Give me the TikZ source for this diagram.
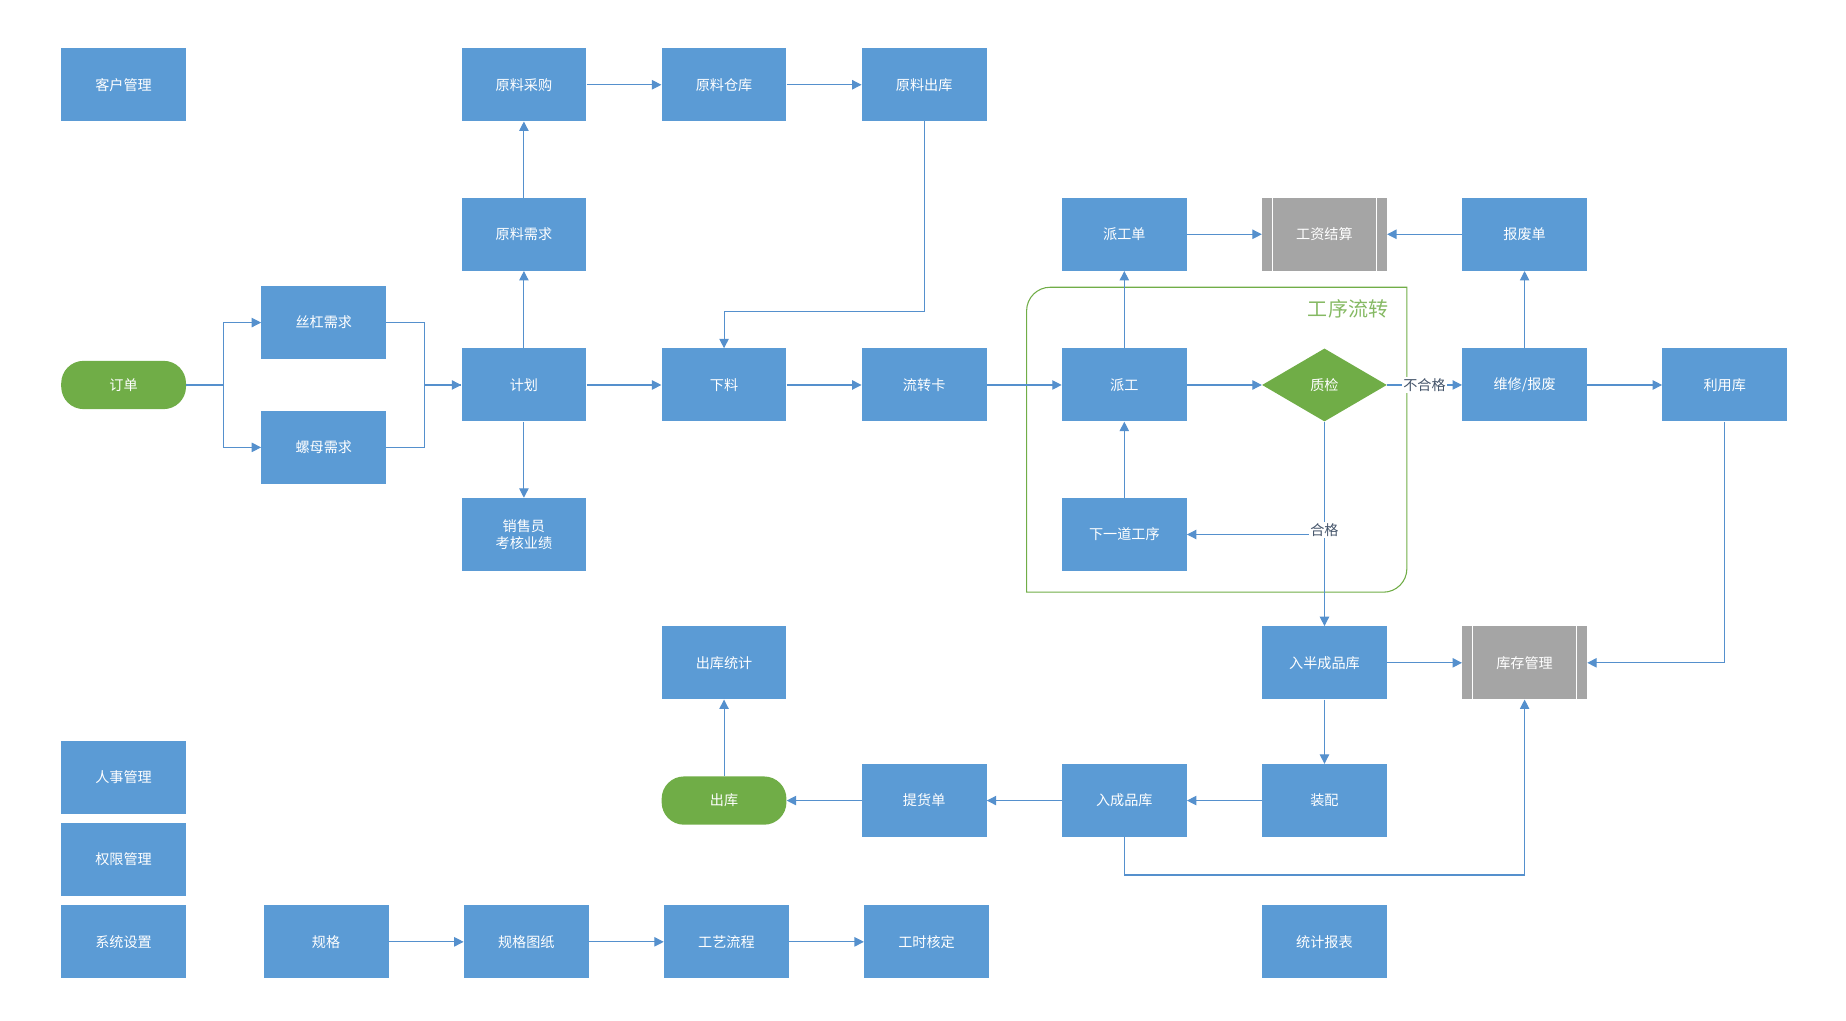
\documentclass[tikz,border=0pt]{standalone}
\usepackage{fontspec}
\setmainfont{Noto Sans CJK SC}
\usetikzlibrary{shapes.geometric,arrows.meta,calc}
\definecolor{boxblue}{HTML}{5B9BD5}
\definecolor{lineblue}{HTML}{5590CD}
\definecolor{okgreen}{HTML}{70AD47}
\definecolor{boxgray}{HTML}{A5A5A5}
\definecolor{labelc}{HTML}{44546A}
\tikzset{
  x=1pt,y=-1pt,
  box/.style={rectangle,fill=boxblue,draw=none,minimum width=106pt,minimum height=62pt,inner sep=0pt,text=white,font=\fontsize{12}{15}\selectfont,align=center},
  graybox/.style={box,fill=boxgray},
  term/.style={rectangle,rounded corners=19pt,fill=okgreen,draw=none,minimum width=106pt,minimum height=41pt,inner sep=0pt,text=white,font=\fontsize{12}{15}\selectfont},
  decide/.style={diamond,fill=okgreen,draw=none,minimum width=106pt,minimum height=62pt,inner sep=0pt,text=white,font=\fontsize{12}{15}\selectfont},
  arr/.style={draw=lineblue,line width=0.9pt,-{Triangle[length=8pt,width=8pt]}},
  ln/.style={draw=lineblue,line width=0.9pt},
  elabel/.style={fill=white,inner sep=1pt,text=labelc,font=\fontsize{12}{14}\selectfont},
}
\begin{document}
\begin{tikzpicture}
\useasboundingbox (0,0) rectangle (1568,867);
% group frame
\draw[okgreen,line width=0.9pt]
  (872,264) arc[start angle=180,end angle=270,radius=20] -- (1195,244) -- (1195,483)
  arc[start angle=0,end angle=90,radius=20] -- (872,503) -- cycle;
\node[text=okgreen!85!white,font=\fontsize{17}{20}\selectfont] (grp) at (1145,262) {工序流转};
% nodes
\node[box] (khgl) at (105,72) {客户管理};
\node[box] (ylcg) at (445,72) {原料采购};
\node[box] (ylck) at (615,72) {原料仓库};
\node[box] (ylchk) at (785,72) {原料出库};
\node[box] (ylxq) at (445,199) {原料需求};
\node[box] (pgd) at (955,199) {派工单};
\node[graybox] (gzjs) at (1125,199) {工资结算};
\node[box] (bfd) at (1295,199) {报废单};
\node[box] (sgxq) at (275,274) {丝杠需求};
\node[term] (dd) at (105,327) {订单};
\node[box] (jh) at (445,327) {计划};
\node[box] (xl) at (615,327) {下料};
\node[box] (lzk) at (785,327) {流转卡};
\node[box] (pg) at (955,327) {派工};
\node[decide] (zj) at (1125,327) {质检};
\node[box] (wx) at (1295,327) {维修/报废};
\node[box] (lyk) at (1465,327) {利用库};
\node[box] (lmxq) at (275,380) {螺母需求};
\node[box] (xsy) at (445,454) {销售员\\考核业绩};
\node[box] (xydgx) at (955,454) {下一道工序};
\node[box] (rbcp) at (1125,563) {入半成品库};
\node[graybox] (kcgl) at (1295,563) {库存管理};
\node[box] (ckts) at (615,563) {出库统计};
\node[box] (rsgl) at (105,660) {人事管理};
\node[term] (ck) at (615,680) {出库};
\node[box] (thd) at (785,680) {提货单};
\node[box] (rcp) at (955,680) {入成品库};
\node[box] (zp) at (1125,680) {装配};
\node[box] (qxgl) at (105,730) {权限管理};
\node[box] (xtsz) at (105,800) {系统设置};
\node[box] (gg) at (277,800) {规格};
\node[box] (ggtz) at (447,800) {规格图纸};
\node[box] (gylc) at (617,800) {工艺流程};
\node[box] (gshd) at (787,800) {工时核定};
\node[box] (tjbb) at (1125,800) {统计报表};
% white bars of the gray boxes
\foreach \n in {gzjs,kcgl}{
  \draw[white,line width=0.8pt] ([xshift=9pt]\n.north west) -- ([xshift=9pt]\n.south west);
  \draw[white,line width=0.8pt] ([xshift=-9pt]\n.north east) -- ([xshift=-9pt]\n.south east);
}
% connectors
\draw[arr] (dd.east) -- ++(32,0) |- (sgxq.west);
\draw[arr] (dd.east) -- ++(32,0) |- (lmxq.west);
\draw[ln] (sgxq.east) -- ++(32,0) |- (jh.west);
\draw[arr] (lmxq.east) -- ++(32,0) |- (jh.west);
\draw[arr] (jh.north) -- (ylxq.south);
\draw[arr] (ylxq.north) -- (ylcg.south);
\draw[arr] (ylcg.east) -- (ylck.west);
\draw[arr] (ylck.east) -- (ylchk.west);
\draw[arr] (ylchk.south) -- ++(0,161) -| (xl.north);
\draw[arr] (jh.east) -- (xl.west);
\draw[arr] (jh.south) -- (xsy.north);
\draw[arr] (xl.east) -- (lzk.west);
\draw[arr] (lzk.east) -- (pg.west);
\draw[arr] (pg.east) -- (zj.west);
\draw[arr] (pg.north) -- (pgd.south);
\draw[arr] (pgd.east) -- (gzjs.west);
\draw[arr] (bfd.west) -- (gzjs.east);
\draw[arr] (zj.east) -- node[elabel] {不合格} (wx.west);
\draw[arr] (wx.north) -- (bfd.south);
\draw[arr] (wx.east) -- (lyk.west);
\draw[arr] (zj.south) -- (rbcp.north);
\coordinate (hg) at (zj.south |- xydgx.east);
\draw[arr] (hg) -- (xydgx.east);
\node[elabel,anchor=south] (hglab) at ([yshift=-3pt]hg) {合格};
\draw[arr] (xydgx.north) -- (pg.south);
\draw[arr] (lyk.south) |- (kcgl.east);
\draw[arr] (rbcp.east) -- (kcgl.west);
\draw[arr] (rbcp.south) -- (zp.north);
\draw[arr] (zp.west) -- (rcp.east);
\draw[arr] (rcp.west) -- (thd.east);
\draw[arr] (thd.west) -- (ck.east);
\draw[arr] (ck.north) -- (ckts.south);
\draw[arr] (rcp.south) -- ++(0,32) -| (kcgl.south);
\draw[arr] (gg.east) -- (ggtz.west);
\draw[arr] (ggtz.east) -- (gylc.west);
\draw[arr] (gylc.east) -- (gshd.west);
\end{tikzpicture}
\end{document}
